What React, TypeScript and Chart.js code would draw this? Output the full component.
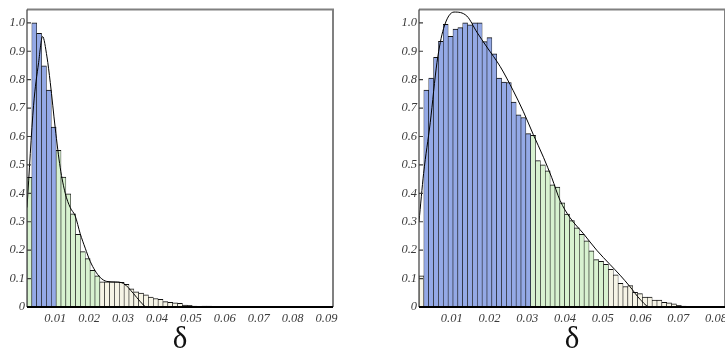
import React, { useEffect, useRef } from "react";
import { Chart, registerables } from "chart.js";

Chart.register(...registerables);

// ---- Left panel: histogram of δ (normalised to the tallest bin) ----
const leftBinStart = 0.00168;
const leftBinWidth = 0.001432;
const leftXMax = 0.0919;
const leftHeights = [
  0.456, 1.0, 0.963, 0.849, 0.763, 0.633, 0.551, 0.457, 0.398, 0.328,
  0.256, 0.195, 0.17, 0.129, 0.11, 0.089, 0.089, 0.089, 0.089, 0.087,
  0.08, 0.064, 0.053, 0.049, 0.043, 0.035, 0.03, 0.027, 0.019, 0.016,
  0.015, 0.013, 0.007, 0.006, 0.0035, 0.002, 0.003, 0.003, 0.002, 0.002,
  0.002, 0.001, 0.002, 0.001, 0.001, 0.002, 0.001, 0.001, 0.001, 0.001,
  0.001, 0, 0.001, 0.001, 0, 0.001, 0, 0, 0.001, 0,
  0, 0, 0.001,
];
// bin index ranges of the shaded bands
const leftBlueBins = [1, 5];
const leftGreenBins = [0, 14];
// smooth density estimate
const leftCurveX = [
  0.00168, 0.00362, 0.0051, 0.00627, 0.00757, 0.00854, 0.01, 0.01148, 0.01296, 0.01443,
  0.0159, 0.01737, 0.01885, 0.0203, 0.0218, 0.02326, 0.0252, 0.0277, 0.0301, 0.0331,
  0.035, 0.037, 0.045, 0.0919,
];
const leftCurveY = [
  0.35, 0.71, 0.86, 0.952, 0.88, 0.79, 0.63, 0.49, 0.4, 0.35,
  0.32, 0.258, 0.207, 0.161, 0.127, 0.104, 0.09, 0.088, 0.083, 0.047,
  0.02, 0, 0, 0,
];
const leftXTicks = [0.01, 0.02, 0.03, 0.04, 0.05, 0.06, 0.07, 0.08, 0.09];

// ---- Right panel ----
const rightBinStart = 0.00132;
const rightBinWidth = 0.001287;
const rightXMax = 0.0824;
const rightHeights = [
  0.11, 0.763, 0.806, 0.879, 0.935, 0.995, 0.953, 0.978, 0.983, 1.0,
  0.993, 1.0, 1.0, 0.934, 0.948, 0.891, 0.806, 0.792, 0.79, 0.721,
  0.676, 0.667, 0.61, 0.604, 0.515, 0.5, 0.479, 0.43, 0.422, 0.367,
  0.327, 0.304, 0.279, 0.256, 0.233, 0.198, 0.167, 0.161, 0.15, 0.133,
  0.113, 0.083, 0.072, 0.075, 0.052, 0.047, 0.035, 0.035, 0.024, 0.024,
  0.016, 0.015, 0.011, 0.006, 0.003, 0.002, 0.001, 0.001, 0, 0.001,
  0, 0, 0,
];
const rightBlueBins = [1, 22];
const rightGreenBins = [23, 38];
const rightCurveX = [
  0.00132, 0.00254, 0.00431, 0.00608, 0.00783, 0.0106, 0.014, 0.01667, 0.0193, 0.0228,
  0.0263, 0.029, 0.0316, 0.0343, 0.0365, 0.0387, 0.0413, 0.0449, 0.0484, 0.0519,
  0.0546, 0.0572, 0.0599, 0.0625, 0.07, 0.0824,
];
const rightCurveY = [
  0.3, 0.47, 0.65, 0.86, 0.98, 1.038, 1.024, 0.967, 0.915, 0.847,
  0.761, 0.687, 0.607, 0.527, 0.455, 0.375, 0.315, 0.258, 0.2, 0.15,
  0.112, 0.072, 0.027, 0, 0, 0,
];
const rightXTicks = [0.01, 0.02, 0.03, 0.04, 0.05, 0.06, 0.07, 0.08];

const yTicks = [0, 0.1, 0.2, 0.3, 0.4, 0.5, 0.6, 0.7, 0.8, 0.9, 1.0];
const yMax = 1.047;

const BLUE = "#94a9e6";
const GREEN = "#d8f2d0";
const CREAM = "#f6f4e6";
const SERIF = "'Liberation Serif', 'Times New Roman', serif";
const TICK_FONT = { family: SERIF, size: 12.5, style: "italic" as const };

const framePlugin = {
  id: "mmaFrame",
  afterDraw(chart: any) {
    const { ctx, chartArea } = chart;
    const { left, right, top, bottom } = chartArea;
    const y = chart.scales.y;
    ctx.save();
    // top and right border
    ctx.strokeStyle = "#808080";
    ctx.lineWidth = 2;
    ctx.beginPath();
    ctx.moveTo(left, top);
    ctx.lineTo(right, top);
    ctx.lineTo(right, bottom);
    ctx.stroke();
    // left axis with inward ticks
    ctx.strokeStyle = "#3c3c3c";
    ctx.lineWidth = 1.2;
    ctx.beginPath();
    ctx.moveTo(left, top);
    ctx.lineTo(left, bottom);
    for (const t of y.ticks) {
      const py = y.getPixelForValue(t.value);
      ctx.moveTo(left, py);
      ctx.lineTo(left + 4, py);
    }
    ctx.stroke();
    // bottom axis
    ctx.strokeStyle = "#000";
    ctx.lineWidth = 2;
    ctx.beginPath();
    ctx.moveTo(left, bottom);
    ctx.lineTo(right, bottom);
    ctx.stroke();
    ctx.restore();
  },
};

type PanelProps = {
  binStart: number;
  binWidth: number;
  xMax: number;
  heights: number[];
  blue: number[];
  green: number[];
  curveX: number[];
  curveY: number[];
  xTicks: number[];
  left: number;
};

function Panel(p: PanelProps) {
  const ref = useRef<HTMLCanvasElement | null>(null);
  useEffect(() => {
    if (!ref.current) return;
    const bars = p.heights.map((h, i) => ({ x: p.binStart + (i + 0.5) * p.binWidth, y: h }));
    const colors = p.heights.map((_, i) =>
      i >= p.blue[0] && i <= p.blue[1] ? BLUE : i >= p.green[0] && i <= p.green[1] ? GREEN : CREAM
    );
    const curve = p.curveX.map((x, i) => ({ x, y: p.curveY[i] }));
    const chart = new Chart(ref.current, {
      type: "bar",
      data: {
        datasets: [
          {
            type: "line",
            data: curve,
            borderColor: "#000",
            borderWidth: 1,
            pointRadius: 0,
            fill: false,
            cubicInterpolationMode: "monotone",
            order: 0,
          } as any,
          {
            type: "bar",
            data: bars,
            backgroundColor: colors,
            borderColor: "#111",
            borderWidth: { top: 1, left: 0.6, right: 0.6, bottom: 0 },
            borderSkipped: false,
            barPercentage: 1,
            categoryPercentage: 1,
            order: 1,
          } as any,
        ],
      },
      options: {
        animation: false,
        responsive: false,
        events: [],
        layout: { padding: { left: 0, top: 1.5, right: 12, bottom: 0 } },
        plugins: { legend: { display: false }, tooltip: { enabled: false } },
        scales: {
          x: {
            type: "linear",
            min: p.binStart,
            max: p.xMax,
            offset: false,
            grid: { display: false, drawTicks: false },
            border: { display: false },
            afterBuildTicks: (s: any) => {
              s.ticks = p.xTicks.map((v) => ({ value: v }));
            },
            afterFit: (s: any) => {
              s.height = 47;
            },
            ticks: {
              autoSkip: false,
              maxRotation: 0,
              padding: 4,
              color: "#3a3a3a",
              font: TICK_FONT,
              callback: (v: any) => Number(v).toFixed(2),
            },
            title: {
              display: true,
              text: "δ",
              color: "#111",
              font: { family: SERIF, size: 31 },
              padding: { top: 0, bottom: -4 },
            },
          },
          y: {
            type: "linear",
            min: 0,
            max: yMax,
            grid: { display: false, drawTicks: false },
            border: { display: false },
            afterBuildTicks: (s: any) => {
              s.ticks = yTicks.map((v) => ({ value: v }));
            },
            afterFit: (s: any) => {
              s.width = 27;
            },
            ticks: {
              padding: 2,
              color: "#3a3a3a",
              font: TICK_FONT,
              callback: (v: any) => (Number(v) === 0 ? "0" : Number(v).toFixed(1)),
            },
          },
        },
      },
      plugins: [framePlugin],
    });
    return () => chart.destroy();
  }, []);
  return (
    <canvas
      ref={ref}
      width={345}
      height={354}
      style={{ position: "absolute", left: p.left, top: 0, width: 345, height: 354 }}
    />
  );
}

export default function App() {
  return (
    <div
      style={{
        position: "fixed",
        left: 0,
        top: 0,
        width: 725,
        height: 354,
        overflow: "hidden",
        background: "#fff",
      }}
    >
      <Panel
        binStart={leftBinStart}
        binWidth={leftBinWidth}
        xMax={leftXMax}
        heights={leftHeights}
        blue={leftBlueBins}
        green={leftGreenBins}
        curveX={leftCurveX}
        curveY={leftCurveY}
        xTicks={leftXTicks}
        left={0}
      />
      <Panel
        binStart={rightBinStart}
        binWidth={rightBinWidth}
        xMax={rightXMax}
        heights={rightHeights}
        blue={rightBlueBins}
        green={rightGreenBins}
        curveX={rightCurveX}
        curveY={rightCurveY}
        xTicks={rightXTicks}
        left={392}
      />
    </div>
  );
}
